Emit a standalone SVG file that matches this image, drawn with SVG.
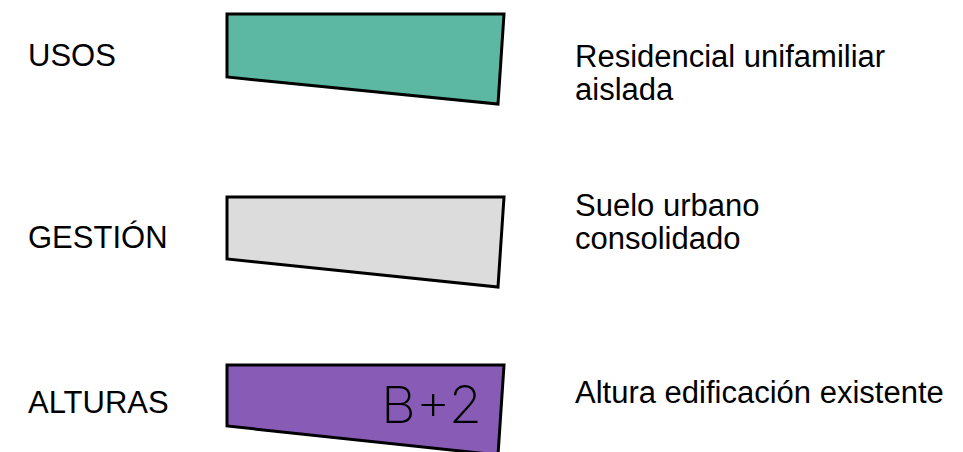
<svg xmlns="http://www.w3.org/2000/svg" width="963" height="452" viewBox="0 0 963 452">
<style>
.lbl{font-family:"Liberation Sans",Arial,sans-serif;font-size:31px;fill:#000}
.sh{stroke:#000;stroke-width:3;stroke-linejoin:miter}
</style>
<rect width="963" height="452" fill="#fff"/>
<g id="usos">
<text class="lbl" x="28" y="66">USOS</text>
<polygon class="sh" fill="#5cb8a2" points="227,14 504,14 498,104 227,77"/>
<text class="lbl" x="575" y="67">Residencial unifamiliar</text>
<text class="lbl" x="575" y="100">aislada</text>
</g>
<g id="gestion">
<text class="lbl" x="28" y="248">GESTIÓN</text>
<polygon class="sh" fill="#dcdcdc" points="227,197 504,197 498,287 227,259"/>
<text class="lbl" x="575" y="216">Suelo urbano</text>
<text class="lbl" x="575" y="249">consolidado</text>
</g>
<g id="alturas">
<text class="lbl" x="28" y="413">ALTURAS</text>
<polygon class="sh" fill="#885cb6" points="227,365 504,365 498,455 227,426"/>
<text x="381" y="423" font-family="Inter,'Liberation Sans',sans-serif" font-size="51" font-weight="200" fill="#000" textLength="101" lengthAdjust="spacingAndGlyphs">B+2</text>
<text class="lbl" x="575" y="403">Altura edificación existente</text>
</g>
<g id="connectors"></g>
</svg>
